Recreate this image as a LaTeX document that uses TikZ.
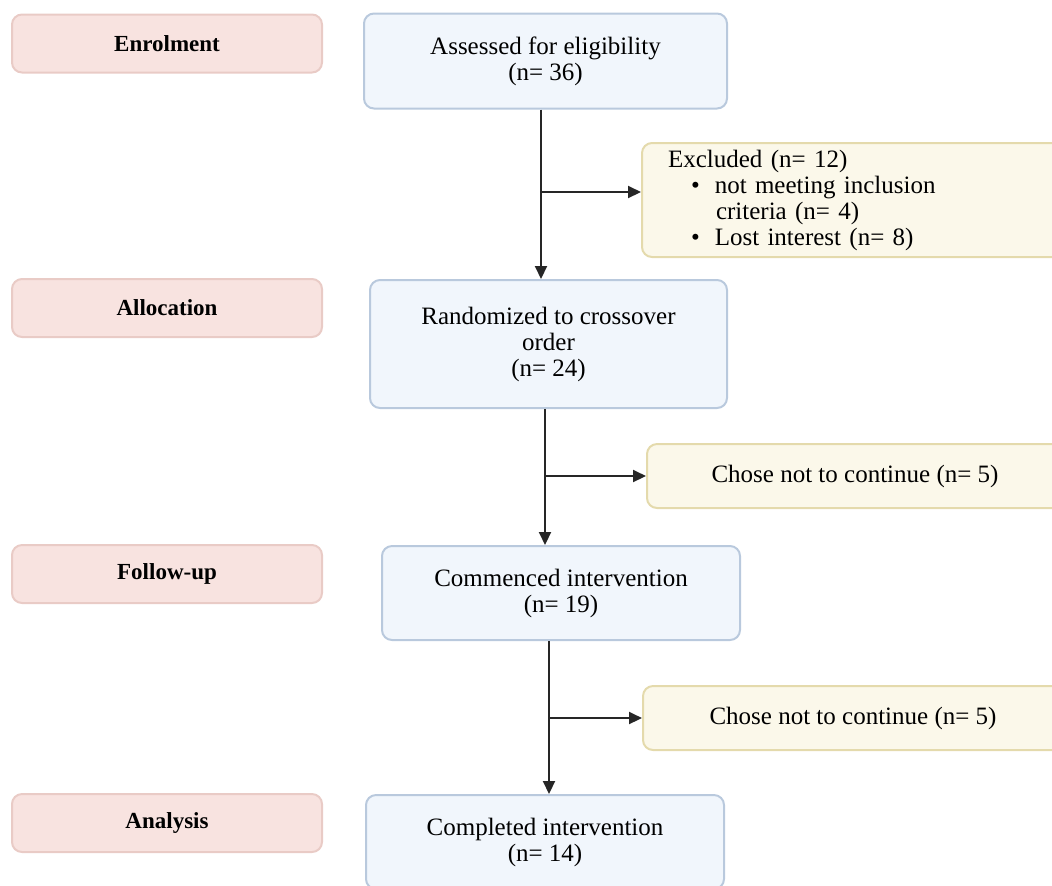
\documentclass[tikz,border=0pt]{standalone}
\usepackage{fontspec}
\setmainfont{Liberation Serif}
\usetikzlibrary{arrows.meta}

\definecolor{stagefill}{HTML}{F8E3E0}
\definecolor{stageline}{HTML}{E9CBC6}
\definecolor{mainfill}{HTML}{F1F6FC}
\definecolor{mainline}{HTML}{B9C9DD}
\definecolor{exitfill}{HTML}{FBF8EA}
\definecolor{exitline}{HTML}{E4DAAC}

\begin{document}
\begin{tikzpicture}[x=0.5pt,y=-0.5pt,
	stage/.style={draw=stageline,fill=stagefill,line width=1pt,rounded corners=5pt,
		minimum width=155pt,minimum height=29pt,font=\bfseries\fontsize{11.5}{13}\selectfont},
	box/.style={draw=mainline,fill=mainfill,line width=1pt,rounded corners=5pt,
		minimum width=179pt,align=center,font=\fontsize{12.5}{13}\selectfont},
	exitbox/.style={draw=exitline,fill=exitfill,line width=1pt,rounded corners=5pt,
		font=\fontsize{12.5}{13}\selectfont},
	arr/.style={-{Triangle[length=6.5pt,width=6pt]},line width=1pt,draw=black!85}]

	\useasboundingbox (0,0) rectangle (1052,885);
	\clip (0,0) rectangle (1052,885);

	% Левая колонка: этапы
	\node[stage] (enrol) at (167,43.5) {Enrolment};
	\node[stage] (alloc) at (167,308) {Allocation};
	\node[stage] (follow) at (167,574) {Follow-up};
	\node[stage] (anal) at (167,823) {Analysis};

	% Центральная колонка
	\node[box,minimum width=181.5pt,minimum height=47.5pt] (assess) at (545.5,61)
		{Assessed for eligibility\\(n= 36)};
	\node[box,minimum width=178.5pt,minimum height=64pt] (rand) at (548.5,344)
		{Randomized to crossover\\order\\(n= 24)};
	\node[box,minimum height=47pt] (comm) at (561,593)
		{Commenced intervention\\(n= 19)};
	\node[box,minimum height=47pt] (compl) at (545,842)
		{Completed intervention\\(n= 14)};

	% Правая колонка: выбывшие
	\node[exitbox,anchor=west,text width=200pt,inner xsep=13pt,minimum height=55pt,align=left]
		(excl) at (641,200)
		{Excluded (n= 12)\\
		\hspace*{11.5pt}\textbullet\hspace{7.5pt}not meeting inclusion\\
		\hspace*{24pt}criteria (n= 4)\\
		\hspace*{11.5pt}\textbullet\hspace{7.5pt}Lost interest (n= 8)};
	\node[exitbox,minimum width=208pt,minimum height=32pt] (drop1) at (855,476)
		{Chose not to continue (n= 5)};
	\node[exitbox,minimum width=210pt,minimum height=32pt] (drop2) at (853,718)
		{Chose not to continue (n= 5)};

	% Точки ветвления
	\coordinate (b1) at (541,192);
	\coordinate (b2) at (545,476);
	\coordinate (b3) at (549,718);

	% Стрелки вниз
	\draw[arr] (assess.south -| b1) -- (rand.north -| b1);
	\draw[arr] (rand.south -| b2) -- (comm.north -| b2);
	\draw[arr] (comm.south -| b3) -- (compl.north -| b3);

	% Стрелки вправо
	\draw[arr] (b1) -- (excl.west |- b1);
	\draw[arr] (b2) -- (drop1.west |- b2);
	\draw[arr] (b3) -- (drop2.west |- b3);
\end{tikzpicture}
\end{document}
